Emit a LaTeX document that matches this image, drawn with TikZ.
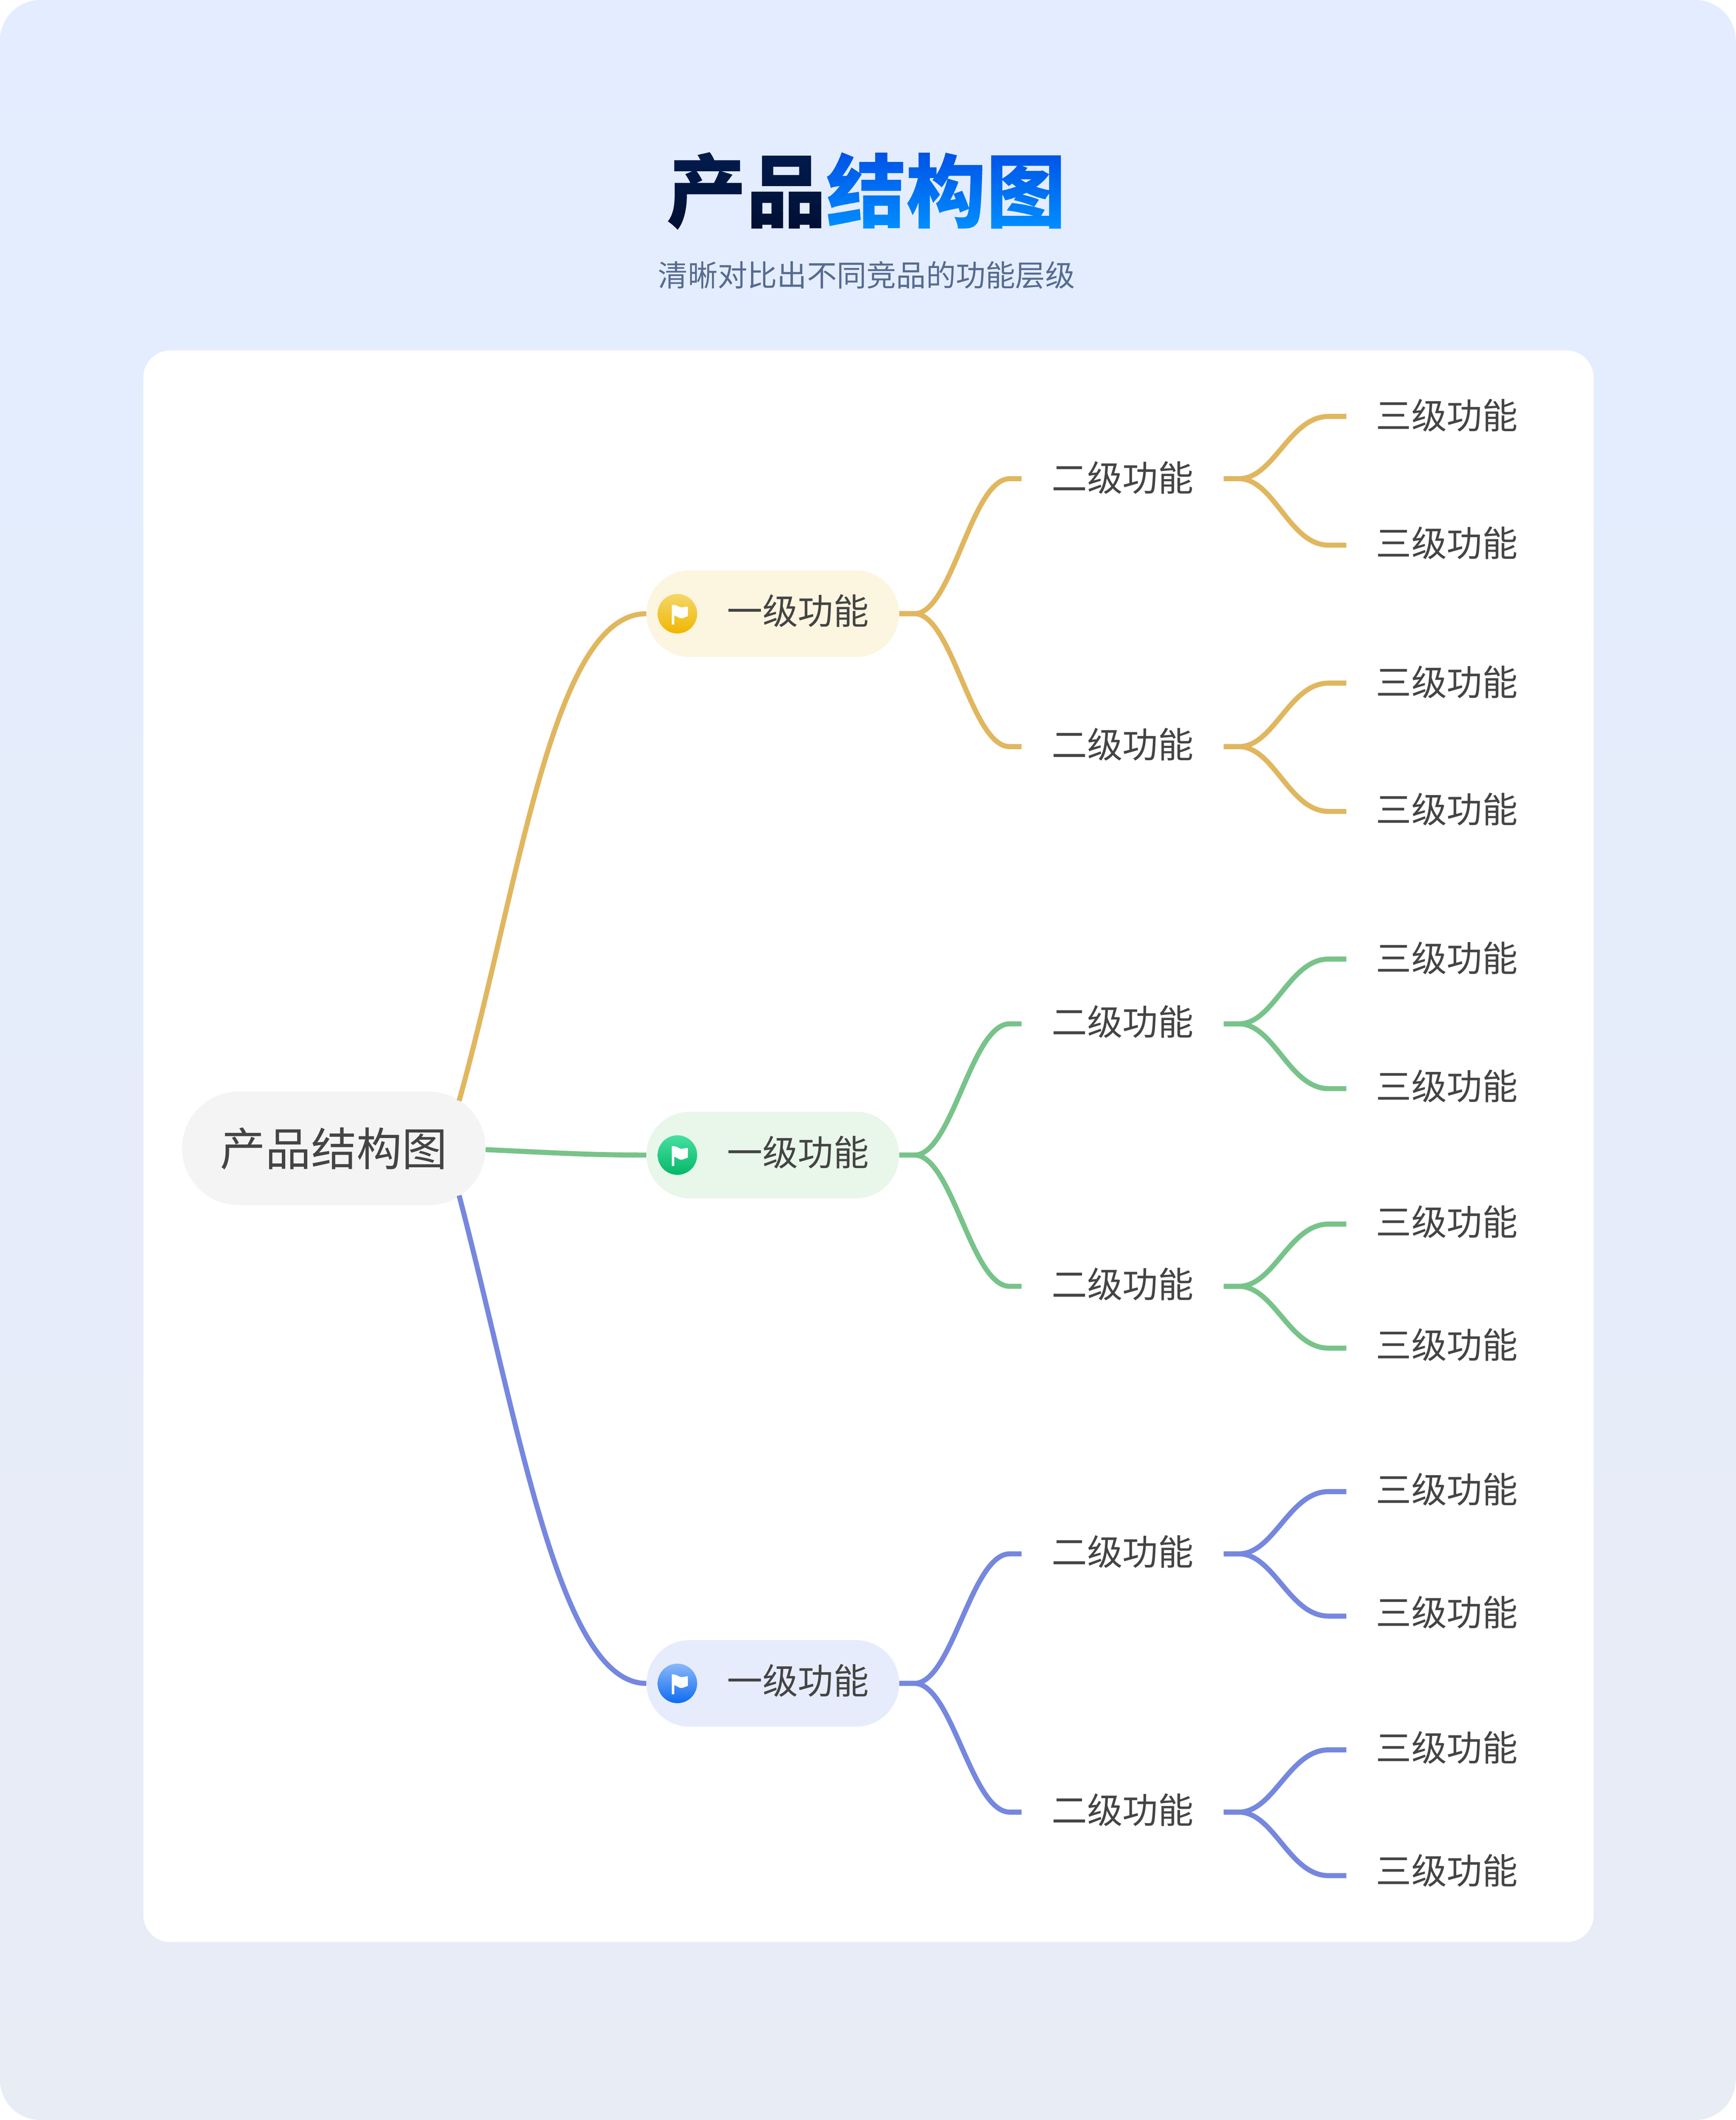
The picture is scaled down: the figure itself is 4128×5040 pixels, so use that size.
\documentclass[tikz,border=0pt]{standalone}
\usepackage{fontspec}
\usetikzlibrary{calc,shapes.misc}
\newfontfamily\cjk{Noto Sans CJK SC}
\newfontfamily\cjktitle{Noto Sans CJK SC Black}
\definecolor{ylw}{HTML}{E0B75F}
\definecolor{grn}{HTML}{78C38A}
\definecolor{blu}{HTML}{7587DE}
\definecolor{txt}{HTML}{444444}
\definecolor{rootfill}{HTML}{F4F4F4}
\definecolor{pagetop}{HTML}{E3EDFF}
\definecolor{pagebot}{HTML}{E8ECF5}
\definecolor{subt}{HTML}{566B8F}
\definecolor{pilly}{HTML}{FCF5E0}
\definecolor{pillg}{HTML}{E9F6EA}
\definecolor{pillb}{HTML}{E6ECFB}
\definecolor{yt}{HTML}{F5D76A}
\definecolor{yb}{HTML}{EFB700}
\definecolor{gt}{HTML}{46DFA0}
\definecolor{gb}{HTML}{05B868}
\definecolor{bt}{HTML}{8AB8FA}
\definecolor{bb}{HTML}{0F6CF0}
\newbox\gradbox
% text filled with a vertical gradient: text, top r g b, bottom r g b
\newcommand\gradtext[7]{%
  \setbox\gradbox\hbox{#1}%
  \pgfmathsetmacro\gradw{\wd\gradbox*0.99626}%
  \gdef\gradops{}%
  \foreach \gradi in {0,...,59}{%
    \pgfmathsetmacro\gradt{\gradi/59}%
    \pgfmathsetmacro\gradr{#2+(#5-#2)*\gradt}%
    \pgfmathsetmacro\gradg{#3+(#6-#3)*\gradt}%
    \pgfmathsetmacro\gradb{#4+(#7-#4)*\gradt}%
    \pgfmathsetmacro\grady{86-\gradi*1.65-2}%
    \xdef\gradops{\gradops\space\gradr\space\gradg\space\gradb\space rg 0 \grady\space\gradw\space 2 re f}%
  }%
  \hbox{\special{pdf:code q 7 Tr}\copy\gradbox\special{pdf:code 0 Tr}\kern-\wd\gradbox\special{pdf:content \gradops}\kern\wd\gradbox\special{pdf:code Q}}%
}
\tikzset{
  x=0.5pt,y=-0.5pt,
  pill/.style={rounded rectangle,inner sep=0pt,minimum width=300.5pt,minimum height=103pt,font=\cjk\fontsize{42.2pt}{42.2pt}\selectfont,text=txt,text height=37.8pt,text depth=12.2pt},
  rootnode/.style={rounded rectangle,inner sep=0pt,fill=rootfill,minimum width=361pt,minimum height=135pt,font=\cjk\fontsize{54pt}{54pt}\selectfont,text=txt,text height=47.5pt,text depth=6.5pt},
  lvtwo/.style={inner sep=0pt,minimum width=240pt,font=\cjk\fontsize{42.2pt}{42.2pt}\selectfont,text=txt,text height=37.8pt,text depth=8.2pt},
  lvthree/.style={inner sep=0pt,anchor=west,font=\cjk\fontsize{42.2pt}{42.2pt}\selectfont,text=txt,text height=37.8pt,text depth=8.2pt},
  icon/.style={circle,inner sep=0pt,minimum size=47pt},
  link/.style={line width=6pt,line cap=butt}
}
% two-step branch between nodes
\newcommand\branchA[3]{\draw[link,#1] (#2.east) -- ++(36,0) .. controls +(90,0) and ($(#3.west)+(-120,0)$) .. ($(#3.west)+(-28,0)$) -- (#3.west);}
\newcommand\branchB[3]{\draw[link,#1] (#2.east) -- ++(36,0) .. controls +(84,0) and ($(#3.west)+(-136,0)$) .. ($(#3.west)+(-42,0)$) -- (#3.west);}
% flag icon
\newcommand\flagicon[5]{%
  \node[icon,top color=#4,bottom color=#5] (#1) at (#2,#3) {};
  \fill[white,shift={(#1.center)}] (-13,-21) -- (-7,-21) -- (-7,26) -- (-13,26) -- cycle;
  \fill[white,shift={(#1.center)}] (-9,-21) .. controls (0,-21) and (4,-15) .. (9,-15) .. controls (15,-15) and (20,-17) .. (25,-17) -- (25,6) .. controls (20,7) and (15,11) .. (9,11) .. controls (3,11) and (0,5) .. (-9,4) -- cycle;
}
\newcommand\txtb{\kern60pt 一级功能}
\newcommand\txtc[1][0]{\raisebox{#1pt}{二级功能}}
\newcommand\txtd[1][0]{\kern35pt\raisebox{#1pt}{三级功能}}
\begin{document}
\begin{tikzpicture}
\useasboundingbox (0,0) rectangle (4128,5040);
\fill[white] (0,0) rectangle (4128,5040);
\shade[rounded corners=48pt,top color=pagetop,bottom color=pagebot] (0,0) rectangle (4128,5040);
\fill[white,rounded corners=32pt] (341,833) rectangle (3790,4617);

\node[inner sep=0pt,font=\cjktitle\fontsize{95pt}{95pt}\selectfont] (title) at (2060,454) {\gradtext{产品}{0.004}{0.11}{0.306}{0}{0.06}{0.2}\gradtext{结构图}{0}{0.31}{0.9}{0}{0.565}{1}};
\node[inner sep=0pt,font=\cjk\fontsize{35.4pt}{35.4pt}\selectfont,text=subt] (subtitle) at (2061,654) {清晰对比出不同竞品的功能层级};

\node[rootnode] (root) at (794,2730) {产品结构图};

\node[pill,fill=pilly] (y) at (1838,1459) {\txtb};
\node[pill,fill=pillg] (g) at (1838,2746) {\txtb};
\node[pill,fill=pillb] (b) at (1838,4002) {\txtb};
\flagicon{yi}{1611}{1459}{yt}{yb}
\flagicon{gi}{1611}{2746}{gt}{gb}
\flagicon{bi}{1611}{4002}{bt}{bb}

\node[lvtwo] (y1) at (2670,1138) {\txtc};
\node[lvtwo] (y2) at (2670,1775) {\txtc[1.5]};
\node[lvtwo] (g1) at (2670,2434) {\txtc[1.5]};
\node[lvtwo] (g2) at (2670,3058) {\txtc[1.5]};
\node[lvtwo] (b1) at (2670,3694) {\txtc[1.5]};
\node[lvtwo] (b2) at (2670,4308) {\txtc[1.5]};

\node[lvthree] (y1a) at (3202,990) {\txtd};
\node[lvthree] (y1b) at (3202,1296) {\txtd[1.5]};
\node[lvthree] (y2a) at (3202,1624) {\txtd};
\node[lvthree] (y2b) at (3202,1929) {\txtd[1.5]};
\node[lvthree] (g1a) at (3202,2280) {\txtd};
\node[lvthree] (g1b) at (3202,2588) {\txtd[1.5]};
\node[lvthree] (g2a) at (3202,2910) {\txtd[1.5]};
\node[lvthree] (g2b) at (3202,3205) {\txtd[3]};
\node[lvthree] (b1a) at (3202,3546) {\txtd[1.5]};
\node[lvthree] (b1b) at (3202,3842) {\txtd[3]};
\node[lvthree] (b2a) at (3202,4160) {\txtd[1.5]};
\node[lvthree] (b2b) at (3202,4459) {\txtd[5]};

\coordinate (rt) at (1092,2617);
\coordinate (rm) at (1155,2733);
\coordinate (rb) at (1092,2842);
\draw[link,ylw] (rt) .. controls +(146,-527) and ($(y.west)+(-222,0)$) .. (y.west);
\draw[link,grn] (rm) .. controls +(170,8) and ($(g.west)+(-130,0)$) .. (g.west);
\draw[link,blu] (rb) .. controls +(146,560) and ($(b.west)+(-206,0)$) .. (b.west);

\branchA{ylw}{y}{y1}\branchA{ylw}{y}{y2}
\branchA{grn}{g}{g1}\branchA{grn}{g}{g2}
\branchA{blu}{b}{b1}\branchA{blu}{b}{b2}

\branchB{ylw}{y1}{y1a}\branchB{ylw}{y1}{y1b}
\branchB{ylw}{y2}{y2a}\branchB{ylw}{y2}{y2b}
\branchB{grn}{g1}{g1a}\branchB{grn}{g1}{g1b}
\branchB{grn}{g2}{g2a}\branchB{grn}{g2}{g2b}
\branchB{blu}{b1}{b1a}\branchB{blu}{b1}{b1b}
\branchB{blu}{b2}{b2a}\branchB{blu}{b2}{b2b}
\end{tikzpicture}
\end{document}
